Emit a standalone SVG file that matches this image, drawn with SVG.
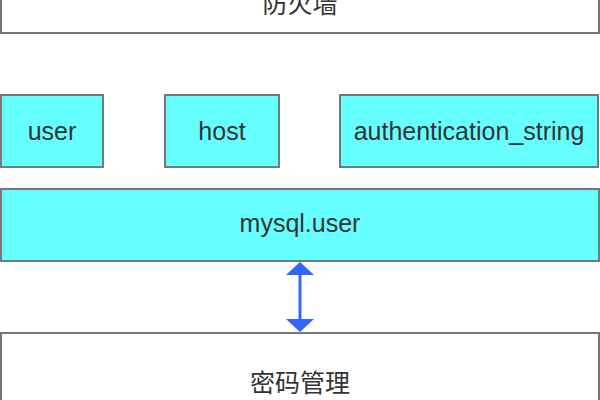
<svg xmlns="http://www.w3.org/2000/svg" width="600" height="400" viewBox="0 0 600 400">
  <style>
    .box { stroke: #777777; stroke-width: 2; }
    .cyan { fill: #66FFFF; }
    .white { fill: #FFFFFF; }
    .lbl { font-family: "Liberation Sans", Arial, sans-serif; font-size: 25px; fill: #333333; text-anchor: middle; }
    .cjk { font-family: "Liberation Sans", "Noto Sans CJK SC", sans-serif; font-size: 25px; fill: #333333; text-anchor: middle; }
  </style>
  <defs>
    <marker id="ah" viewBox="0 0 13 28" refX="12" refY="14" markerWidth="13" markerHeight="28" markerUnits="userSpaceOnUse" orient="auto-start-reverse">
      <path d="M0,0 L13,14 L0,28 Z" fill="#3366FF"/>
    </marker>
  </defs>
  <rect width="600" height="400" fill="#FFFFFF"/>
  <g id="firewall">
    <rect class="box white" x="1" y="-40" width="598" height="73"/>
    <text class="cjk" x="300" y="13">防火墙</text>
  </g>
  <g id="user">
    <rect class="box cyan" x="1" y="95" width="102" height="72"/>
    <text class="lbl" x="52" y="140">user</text>
  </g>
  <g id="host">
    <rect class="box cyan" x="165" y="95" width="114" height="72"/>
    <text class="lbl" x="222" y="140">host</text>
  </g>
  <g id="auth">
    <rect class="box cyan" x="340" y="95" width="258" height="72"/>
    <text class="lbl" x="469" y="140">authentication_string</text>
  </g>
  <g id="mysql_user">
    <rect class="box cyan" x="1" y="189" width="598" height="72"/>
    <text class="lbl" x="300" y="232">mysql.user</text>
  </g>
  <g id="password">
    <rect class="box white" x="1" y="333" width="598" height="100"/>
    <text class="cjk" x="300" y="392">密码管理</text>
  </g>
  <g id="connectors">
    <line x1="300" y1="263" x2="300" y2="331" stroke="#3366FF" stroke-width="3" marker-start="url(#ah)" marker-end="url(#ah)"/>
  </g>
</svg>
